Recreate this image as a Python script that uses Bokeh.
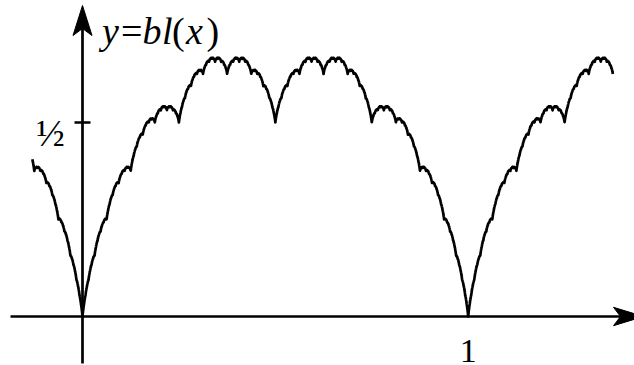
import numpy as np
from bokeh.plotting import figure
from bokeh.core.properties import value
from bokeh.embed import file_html
from bokeh.resources import INLINE

# Graph of the blancmange (Takagi) function  bl(x) = sum_n s(2^n x) / 2^n,
# where s(t) is the distance from t to the nearest integer.
x_start, x_end = -0.130, 1.375      # plotted domain of the curve
n_terms = 14                        # levels of the series
n_samples = 6001
tick_value = 0.5                    # marked value on the y axis
tick_text = "½"
x_tick_value = 1.0
x_tick_text = "1"

W, H = 634, 365
ORIGIN_PX, ORIGIN_PY = 82.0, 316.0   # pixel position of the origin
SX, SY = 385.7, 388.0                # pixels per unit
DESCENT = 0.216                      # font descent (em), used to place baselines

def px_x(px):
    return (px - ORIGIN_PX) / SX

def px_y(py):
    return (ORIGIN_PY - py) / SY

def dx(px):
    return px / SX

def dy(py):
    return py / SY

def baseline_y(py, size):
    # text is anchored at the bottom of its box; shift so the baseline sits at py
    return px_y(py + DESCENT * size)

def s(t):
    return np.abs(t - np.round(t))

def bl(x):
    total = np.zeros_like(x)
    for n in range(n_terms):
        total += s(2.0 ** n * x) / 2.0 ** n
    return total

xs = np.linspace(x_start, x_end, n_samples)
xs = np.union1d(xs, [0.0, 0.5, 1.0])
ys = bl(xs)

p = figure(width=W, height=H, x_range=(px_x(0), px_x(W)), y_range=(px_y(H), px_y(0)),
           output_backend="svg", toolbar_location=None, min_border=0)
p.axis.visible = False
p.grid.visible = False
p.outline_line_color = None
p.background_fill_color = "white"
p.border_fill_color = "white"

lw = 2.7
ink = "black"

# axes
y_notch = px_y(28)
x_notch = px_x(620)
p.line([0, 0], [px_y(363), y_notch], line_width=lw, line_color=ink)
p.line([px_x(10), x_notch], [0, 0], line_width=lw, line_color=ink)

# arrowheads
p.patch([0, dx(9.5), 0, -dx(9.5)],
        [px_y(5), px_y(35), y_notch, px_y(35)], fill_color=ink, line_color=ink, line_width=1)
p.patch([px_x(643), px_x(613), x_notch, px_x(613)],
        [0, dy(9.2), 0, -dy(9.2)], fill_color=ink, line_color=ink, line_width=1)

# tick on the y axis
p.line([-dx(8), dx(8)], [tick_value, tick_value], line_width=lw, line_color=ink)

# the curve
p.line(xs, ys, line_width=2.7, line_color=ink, line_join="round")

serif = value("Liberation Serif")

# function label, set piece by piece (italic variables, upright symbols)
fs_lab = 38
yb = baseline_y(43.5, fs_lab)
p.text([px_x(120.5), px_x(171.5), px_x(206.0)], [yb] * 3, text=["=", "(", ")"],
       text_font=serif, text_font_size=f"{fs_lab}px", text_baseline="bottom",
       text_color=ink)
p.text([px_x(101.5), px_x(142.0), px_x(161.5), px_x(185.5)], [yb] * 4,
       text=["y", "b", "l", "x"], text_font=serif, text_font_size=f"{fs_lab}px",
       text_font_style="italic", text_baseline="bottom", text_color=ink)

# tick labels
fs_half = 38
p.text([px_x(50.0)], [baseline_y(145.0, fs_half)], text=[tick_text], text_font=serif,
       text_font_size=f"{fs_half}px", text_align="center", text_baseline="bottom",
       text_color=ink)
fs_one = 34
p.text([x_tick_value], [baseline_y(354.0, fs_one)], text=[x_tick_text], text_font=serif,
       text_font_size=f"{fs_one}px", text_align="center", text_baseline="bottom",
       text_color=ink)

open("out.html", "w").write(file_html(p, INLINE))
